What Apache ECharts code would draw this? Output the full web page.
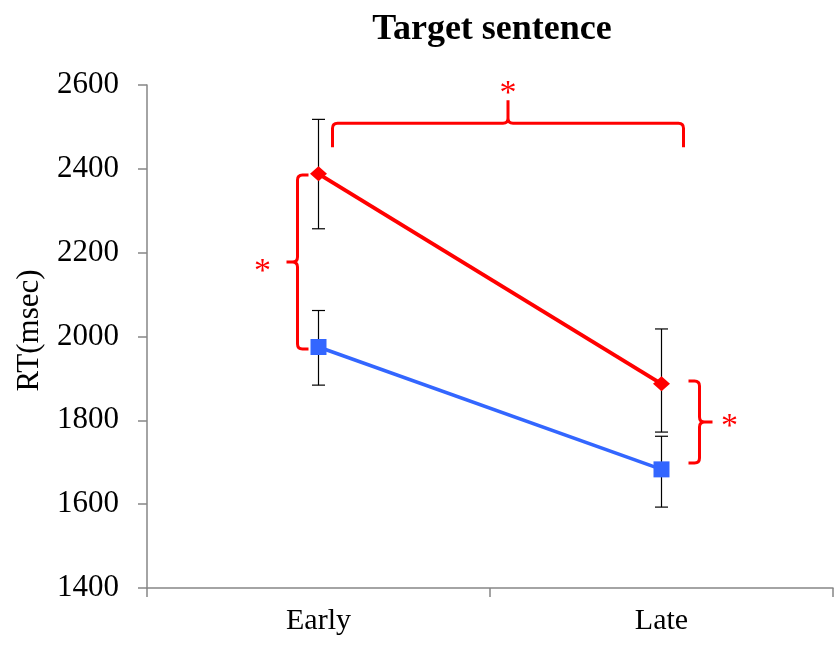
<!DOCTYPE html>
<html>
<head>
<meta charset="utf-8">
<script src="https://cdn.jsdelivr.net/npm/echarts@6.0.0/dist/echarts.min.js"></script>
<style>
  html, body { margin: 0; padding: 0; background: #fff; }
  #chart { width: 834px; height: 646px; }
</style>
</head>
<body>
<div id="chart"></div>
<script>
var dom = document.getElementById('chart');
var myChart = echarts.init(dom);

// data
var categories = ['Early', 'Late'];
var redMeans = [2388, 1887];
var redLow = [2257, 1772];
var redHigh = [2518, 2018];
var blueMeans = [1975, 1683];
var blueLow = [1884, 1593];
var blueHigh = [2062, 1762];

// significance brackets
// vertical ones: [category index, top value, bottom value, side (-1 left / 1 right)]
var pairBrackets = [
  [0, 2385, 1970, -1],
  [1, 1894, 1698, 1]
];
// horizontal one across categories: [from index, to index, bar value]
var spanBracket = [0, 1, 2509];

var RED = '#ff0000';
var BLUE = '#3366ff';
var FONT = '"Liberation Serif", "Times New Roman", serif';

function errData(low, high) {
  return categories.map(function (c, i) { return [i, low[i], high[i]]; });
}

function renderErr(params, api) {
  var lo = api.coord([api.value(0), api.value(1)]);
  var hi = api.coord([api.value(0), api.value(2)]);
  var w = 6.5;
  var st = { stroke: '#000', lineWidth: 1.2 };
  return {
    type: 'group',
    children: [
      { type: 'line', shape: { x1: lo[0], y1: lo[1], x2: hi[0], y2: hi[1] }, style: st },
      { type: 'line', shape: { x1: lo[0] - w, y1: lo[1], x2: lo[0] + w, y2: lo[1] }, style: st },
      { type: 'line', shape: { x1: hi[0] - w, y1: hi[1], x2: hi[0] + w, y2: hi[1] }, style: st }
    ]
  };
}

// curly-ish bracket drawn along y, spine at sx, arms towards ax, tip towards tx
function vBracketPath(sx, ax, tx, y1, y2) {
  var r = 5;
  var d = ax > sx ? 1 : -1;
  var ym = (y1 + y2) / 2;
  return 'M' + ax + ' ' + y1 +
    ' L' + (sx + d * r) + ' ' + y1 +
    ' Q' + sx + ' ' + y1 + ' ' + sx + ' ' + (y1 + r) +
    ' L' + sx + ' ' + (ym - r) +
    ' Q' + sx + ' ' + ym + ' ' + (sx - d * r) + ' ' + ym +
    ' L' + tx + ' ' + ym +
    ' M' + (sx - d * r) + ' ' + ym +
    ' Q' + sx + ' ' + ym + ' ' + sx + ' ' + (ym + r) +
    ' L' + sx + ' ' + (y2 - r) +
    ' Q' + sx + ' ' + y2 + ' ' + (sx + d * r) + ' ' + y2 +
    ' L' + ax + ' ' + y2;
}

function hBracketPath(x1, x2, sy, ay, ty) {
  var r = 5;
  var xm = (x1 + x2) / 2;
  return 'M' + x1 + ' ' + ay +
    ' L' + x1 + ' ' + (sy + r) +
    ' Q' + x1 + ' ' + sy + ' ' + (x1 + r) + ' ' + sy +
    ' L' + (xm - r) + ' ' + sy +
    ' Q' + xm + ' ' + sy + ' ' + xm + ' ' + (sy - r) +
    ' L' + xm + ' ' + ty +
    ' M' + xm + ' ' + (sy - r) +
    ' Q' + xm + ' ' + sy + ' ' + (xm + r) + ' ' + sy +
    ' L' + (x2 - r) + ' ' + sy +
    ' Q' + x2 + ' ' + sy + ' ' + x2 + ' ' + (sy + r) +
    ' L' + x2 + ' ' + ay;
}

// asterisk, (x, y) is roughly the visual centre of the glyph
function star(x, y) {
  return {
    type: 'text',
    style: {
      x: x, y: y + 8, text: '*', fill: RED,
      font: '34px ' + FONT, align: 'center', verticalAlign: 'middle'
    }
  };
}

function renderPair(params, api) {
  var side = api.value(3);
  var top = api.coord([api.value(0), api.value(1)]);
  var bot = api.coord([api.value(0), api.value(2)]);
  var cx = top[0];
  var ym = (top[1] + bot[1]) / 2;
  var sx, ax, tx, stx, sty;
  if (side < 0) {
    sx = cx - 21; ax = cx - 10; tx = cx - 32; stx = cx - 56; sty = ym + 2;
  } else {
    sx = cx + 38; ax = cx + 27; tx = cx + 51; stx = cx + 68; sty = ym - 3;
  }
  return {
    type: 'group',
    children: [
      {
        type: 'path',
        shape: { pathData: vBracketPath(sx, ax, tx, top[1], bot[1]) },
        style: { stroke: RED, lineWidth: 3, fill: null }
      },
      star(stx, sty)
    ]
  };
}

function renderSpan(params, api) {
  var a = api.coord([api.value(0), api.value(2)]);
  var b = api.coord([api.value(1), api.value(2)]);
  var x1 = a[0] + 14, x2 = b[0] + 22, sy = a[1];
  return {
    type: 'group',
    children: [
      {
        type: 'path',
        shape: { pathData: hBracketPath(x1, x2, sy, sy + 24, sy - 23) },
        style: { stroke: RED, lineWidth: 3, fill: null }
      },
      star((x1 + x2) / 2, sy - 37)
    ]
  };
}

var option = {
  animation: false,
  title: {
    text: 'Target sentence',
    left: 492,
    top: 12,
    padding: 0,
    textAlign: 'center',
    textStyle: { fontFamily: FONT, fontWeight: 'bold', fontSize: 36, color: '#000' }
  },
  grid: { left: 147, right: 1, top: 85, bottom: 58, containLabel: false, outerBoundsMode: 'none' },
  xAxis: {
    type: 'category',
    data: categories,
    boundaryGap: true,
    axisLine: { lineStyle: { color: '#868686', width: 1.5 } },
    axisTick: { show: true, length: 9, alignWithLabel: false, lineStyle: { color: '#868686', width: 1.5 } },
    axisLabel: { margin: 18, fontFamily: FONT, fontSize: 30, color: '#000' },
    splitLine: { show: false }
  },
  yAxis: {
    type: 'value',
    min: 1400,
    max: 2600,
    interval: 200,
    name: 'RT(msec)',
    nameLocation: 'middle',
    nameGap: 102,
    nameTextStyle: { fontFamily: FONT, fontSize: 31, color: '#000', padding: [0, 0, 0, 12] },
    axisLine: { show: true, lineStyle: { color: '#868686', width: 1.5 } },
    axisTick: { show: true, length: 9, lineStyle: { color: '#868686', width: 1.5 } },
    axisLabel: {
      margin: 28, fontFamily: FONT, fontSize: 31, color: '#000',
      formatter: function (v) { return String(v); }
    },
    splitLine: { show: false }
  },
  series: [
    {
      type: 'custom',
      name: 'redErr',
      renderItem: renderErr,
      data: errData(redLow, redHigh),
      z: 1
    },
    {
      type: 'custom',
      name: 'blueErr',
      renderItem: renderErr,
      data: errData(blueLow, blueHigh),
      z: 1
    },
    {
      type: 'line',
      name: 'Red',
      data: redMeans,
      symbol: 'diamond',
      symbolSize: [17, 15],
      lineStyle: { color: RED, width: 4 },
      itemStyle: { color: RED },
      z: 3
    },
    {
      type: 'line',
      name: 'Blue',
      data: blueMeans,
      symbol: 'rect',
      symbolSize: 16,
      lineStyle: { color: BLUE, width: 3.5 },
      itemStyle: { color: BLUE },
      z: 3
    },
    {
      type: 'custom',
      name: 'pairBrackets',
      renderItem: renderPair,
      data: pairBrackets,
      z: 4
    },
    {
      type: 'custom',
      name: 'spanBracket',
      renderItem: renderSpan,
      data: [spanBracket],
      z: 4
    }
  ]
};
myChart.setOption(option);
</script>
</body>
</html>
